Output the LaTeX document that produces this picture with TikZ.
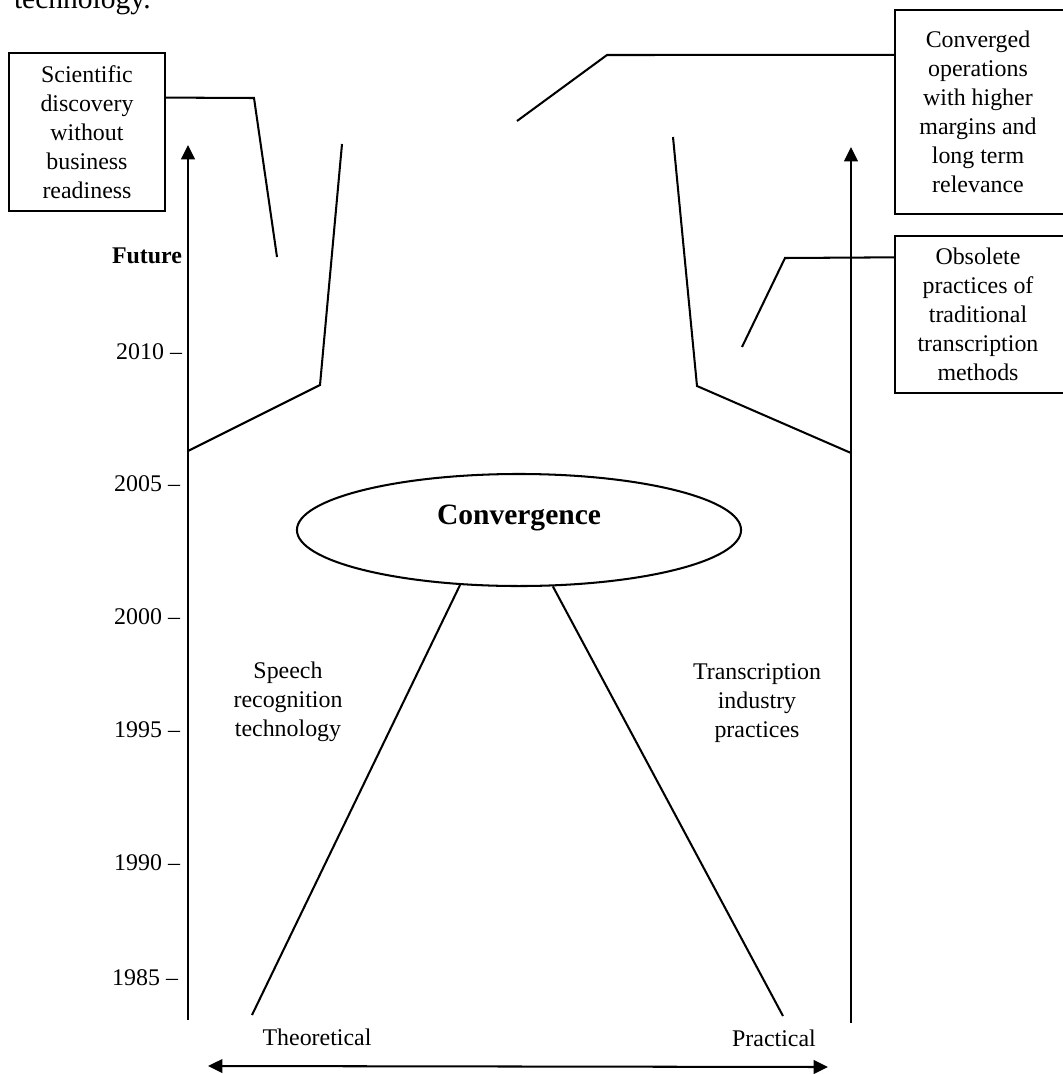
\documentclass[tikz,border=0pt]{standalone}
\usepackage{fontspec}
\setmainfont{Liberation Serif}
\usetikzlibrary{arrows.meta,shapes.geometric,calc}
\begin{document}
\begin{tikzpicture}[x=0.025cm,y=-0.025cm,
  line width=1.45pt,
  >={Triangle[length=0.36cm,width=0.34cm]},
  body/.style={font=\fontsize{17}{20.6}\selectfont},
  txt/.style={body, inner sep=0pt, align=center},
  yearlbl/.style={body, inner sep=0pt, anchor=east},
  callout/.style={draw, rectangle, body, align=center, inner sep=0pt},
  edgebox/.style={rectangle, body, align=center, inner sep=0pt},
  timeaxis/.style={->},
]
\useasboundingbox (0,0) rectangle (1063,1074);
\clip (0,0) rectangle (1063,1074);

% last line of the preceding paragraph
\node[anchor=base west, inner sep=0pt, font=\fontsize{21}{25}\selectfont] (prevline) at (13,8) {technology.};

% call-out boxes
\node[callout, minimum width=3.9cm, minimum height=3.95cm] (sci) at (87,132)
  {Scientific\\discovery\\without\\business\\readiness};
\node[edgebox, minimum width=4.1cm, minimum height=5.05cm] (conv) at (978,112)
  {Converged\\operations\\with higher\\margins and\\long term\\relevance};
\node[edgebox, minimum width=4.1cm, minimum height=3.875cm] (obs) at (978,314.5)
  {Obsolete\\practices of\\traditional\\transcription\\methods};
% the right-hand boxes run past the page edge
\draw ($(conv.north west)+(200,0)$) -- (conv.north west) -- (conv.south west) -- ++(200,0);
\draw ($(obs.north west)+(200,0)$) -- (obs.north west) -- (obs.south west) -- ++(200,0);

% leader lines of the call-outs
\coordinate (sciK) at (254,98);
\coordinate (sciE) at (277,257);
\coordinate (convK) at (607,55);
\coordinate (convE) at (517,121);
\coordinate (obsK) at (785,258);
\coordinate (obsE) at (742,347);
\draw ($(sci.north east)!0.285!(sci.south east)$) -- (sciK) -- (sciE);
\draw ($(conv.north west)!0.22!(conv.south west)$) -- (convK) -- (convE);
\draw ($(obs.north west)!0.136!(obs.south west)$) -- (obsK) -- (obsE);

% time axes
\coordinate (laxB) at (188,1020);
\coordinate (laxT) at (188,145);
\coordinate (raxB) at (851,1023);
\coordinate (raxT) at (851,147);
\draw[timeaxis] (laxB) -- (laxT);
\draw[timeaxis] (raxB) -- (raxT);

% year marks
\node[yearlbl, font=\bfseries\fontsize{17}{20.6}\selectfont] (yfut) at (183,256) {Future};
\node[yearlbl] (y2010) at (183,352) {2010 –};
\node[yearlbl] (y2005) at (181,484) {2005 –};
\node[yearlbl] (y2000) at (181,617) {2000 –};
\node[yearlbl] (y1995) at (181,730) {1995 –};
\node[yearlbl] (y1990) at (181,863) {1990 –};
\node[yearlbl] (y1985) at (179,978) {1985 –};

% the funnel
\coordinate (lfT) at (342,144);
\coordinate (lfK) at (320,385);
\coordinate (lfA) at (188,451);
\coordinate (rfT) at (673,137);
\coordinate (rfK) at (697,386);
\coordinate (rfA) at (851,453);
\draw (lfT) -- (lfK) -- (lfA);
\draw (rfT) -- (rfK) -- (rfA);

% convergence
\node[draw, ellipse, minimum width=11.1cm, minimum height=2.8cm, inner sep=0pt] (cvg) at (519,530) {};
\node[inner sep=0pt, font=\bfseries\fontsize{21}{25}\selectfont] (cvgtext) at (519,518) {Convergence};

\coordinate (theoEnd) at (252,1015);
\coordinate (pracEnd) at (783,1016);
\draw (cvg.223) -- (theoEnd);
\draw (cvg.301) -- (pracEnd);

\node[txt] (speech) at (288,702) {Speech\\recognition\\technology};
\node[txt] (trans) at (757,703) {Transcription\\industry\\practices};

% theoretical / practical span
\node[txt] (theo) at (317,1037) {Theoretical};
\node[txt] (prac) at (774,1038) {Practical};
\coordinate (spanL) at (208,1066);
\coordinate (spanR) at (828,1067);
\draw[<->] (spanL) -- (spanR);
\end{tikzpicture}
\end{document}
